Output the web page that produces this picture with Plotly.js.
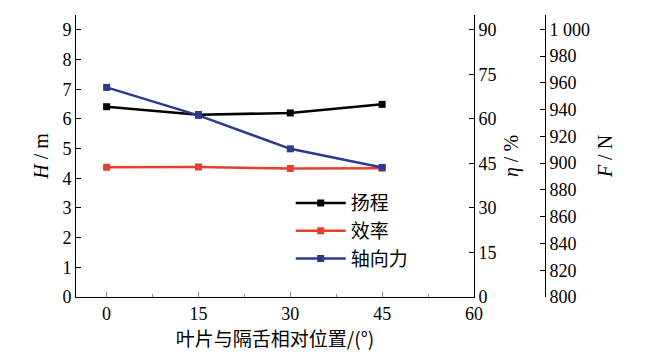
<!DOCTYPE html>
<html><head><meta charset="utf-8">
<script src="https://cdn.plot.ly/plotly-3.0.1.min.js"></script>
<style>body{margin:0;background:#fff}#c{width:650px;height:356px}</style>
</head><body><div id="c"></div>
<script>
const positions = [0, 15, 30, 45];
const head = [6.41, 6.14, 6.20, 6.49];
const efficiency = [43.7, 43.8, 43.3, 43.4];
const axialForce = [956.6, 935.7, 910.7, 896.8];
const seriesNames = ['扬程', '效率', '轴向力'];
const fTickVals = [800, 820, 840, 860, 880, 900, 920, 940, 960, 980, 1000];
const fTickText = ['800', '820', '840', '860', '880', '900', '920', '940', '960', '980', '1 000'];

const serif = 'Liberation Serif';
const cjk = 'Noto Sans CJK SC';
const mk = {symbol: 'square', size: 7};
const traces = [
  {x: positions, y: head, name: seriesNames[0], mode: 'lines+markers', yaxis: 'y',
   line: {color: '#000000', width: 2.5}, marker: Object.assign({color: '#000000'}, mk)},
  {x: positions, y: efficiency, name: seriesNames[1], mode: 'lines+markers', yaxis: 'y2',
   line: {color: '#e5402a', width: 2.5}, marker: Object.assign({color: '#e5402a'}, mk)},
  {x: positions, y: axialForce, name: seriesNames[2], mode: 'lines+markers', yaxis: 'y3',
   line: {color: '#2b3990', width: 2.5}, marker: Object.assign({color: '#2b3990'}, mk)}
];
const tf = {family: serif, size: 18, color: '#000'};
const ttf = {family: serif, size: 20, color: '#000'};
const layout = {
  width: 650, height: 356,
  margin: {l: 76, r: 100, t: 15, b: 59},
  paper_bgcolor: '#fff', plot_bgcolor: '#fff',
  font: {family: serif, color: '#000'},
  showlegend: true,
  legend: {x: 0.453, y: 0.40, xanchor: 'left', yanchor: 'top', bgcolor: 'rgba(0,0,0,0)',
           font: {family: cjk, size: 19, color: '#000'}, tracegroupgap: 0, itemwidth: 50},
  xaxis: {domain: [0, 398/474], range: [-5, 60], tickvals: [0, 15, 30, 45, 60],
          ticks: 'inside', ticklen: 5, tickcolor: '#888', showline: true, linecolor: '#000', linewidth: 1,
          showgrid: false, zeroline: false, tickfont: tf,
          minor: {tickvals: [7.5, 22.5, 37.5, 52.5], ticks: 'inside', ticklen: 3, tickcolor: '#888'},
          title: {text: '叶片与隔舌相对位置/(°)', font: {family: cjk, size: 19, color: '#000'}, standoff: 4}},
  yaxis: {range: [0, 9.5], tickvals: [0,1,2,3,4,5,6,7,8,9], ticks: 'inside', ticklen: 5, tickcolor: '#000',
          showline: true, linecolor: '#000', linewidth: 1, showgrid: false, zeroline: false, tickfont: tf,
          title: {text: '<i>H</i> / m', font: ttf, standoff: 8}},
  yaxis2: {overlaying: 'y', side: 'right', anchor: 'x', range: [0, 95], tickvals: [0,15,30,45,60,75,90],
           ticks: 'inside', ticklen: 5, tickcolor: '#000', showline: true, linecolor: '#000', linewidth: 1,
           showgrid: false, zeroline: false, tickfont: tf,
           title: {text: '<i>η</i> / %', font: ttf, standoff: 8}},
  yaxis3: {overlaying: 'y', side: 'right', anchor: 'free', position: 469/474, range: [800, 1010.7],
           tickvals: fTickVals, ticktext: fTickText, ticks: 'inside', ticklen: 5, tickcolor: '#000',
           showline: true, linecolor: '#000', linewidth: 1, showgrid: false, zeroline: false, tickfont: tf,
           title: {text: '<i>F</i> / N', font: ttf, standoff: 8}}
};
Plotly.newPlot('c', traces, layout, {displayModeBar: false, staticPlot: true});
</script></body></html>
